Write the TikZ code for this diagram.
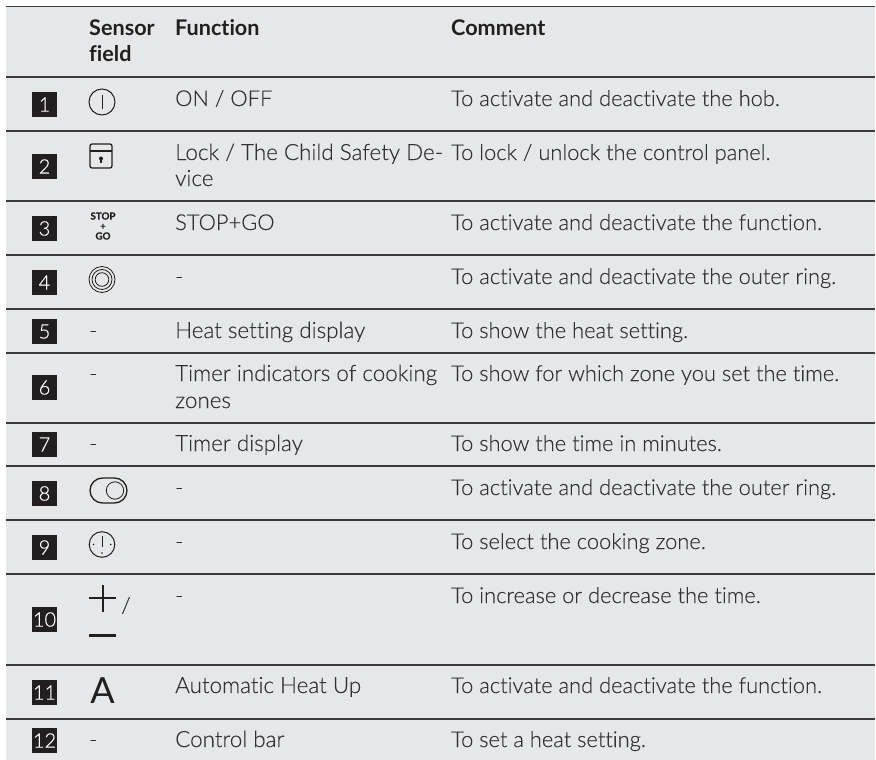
\documentclass[tikz,border=0pt]{standalone}
\usepackage{fontspec}
\setmainfont[Ligatures=NoCommon,UprightFont=* Light,BoldFont=* Bold,UprightFeatures={FakeBold=0.25}]{Lato}
\newfontfamily\lateg[Ligatures=NoCommon]{Lato}
\newfontfamily\latblack[Ligatures=NoCommon,FakeBold=0.5]{Lato Bold}
\definecolor{rowbg}{HTML}{E6E7E9}
\definecolor{rule}{HTML}{3A3A3C}
\definecolor{txt}{HTML}{333335}
\definecolor{ink}{HTML}{231F20}
\tikzset{
  x=1pt,y=-1pt,
  cell/.style={anchor=base west,inner sep=0pt,yshift=-1pt,text=txt,font=\fontsize{21.85}{24}\selectfont},
  fcell/.style={cell,font=\fontsize{22.4}{24}\selectfont},
  head/.style={anchor=base west,inner sep=0pt,yshift=-1pt,text=ink,font=\fontsize{21.6}{24}\selectfont\bfseries},
  numbox/.style={fill=ink,text=white,minimum width=25pt,minimum height=25pt,inner sep=0pt,font=\fontsize{20}{20}\selectfont},
  hline/.style={draw=rule,line width=1.1pt},
  icon/.style={draw=ink,line width=1pt,fill=none},
  stoptext/.style={inner sep=0pt,text=ink,font=\latblack\fontsize{9.8}{10}\selectfont,align=center},
}
\begin{document}
\begin{tikzpicture}
\useasboundingbox (0,0) rectangle (876,760);
\fill[white] (0,0) rectangle (876,760);
\fill[rowbg] (6,6) rectangle (875,760);
\draw[rule,line width=1.7pt] (6,6.5) -- (875,6.5);
\foreach \y in {77,131,201,255,309,353,423,466,520,574,665,719} {\draw[hline] (6,\y) -- (875,\y);}
% numbers
\foreach \n/\y in {1/104.5,2/166.5,3/228.5,4/282.5,5/331.5,6/387.5,7/444.5,8/493.5,9/547.5,10/619.5,11/692.5,12/740.5} {\node[numbox] (n\n) at (44.5,\y) {\n};}
% header
\node[head] (h1) at (89,35) {Sensor};
\node[head] (h1b) at (89,61) {field};
\node[head] (h2) at (175,35) {Function};
\node[head] (h3) at (451,35) {Comment};
% function col
\node[cell] (f1) at (175,105) {ON / OFF};
\node[fcell] (f2) at (175,159) {Lock / The Child Safety De-};
\node[fcell] (f2b) at (175,185) {vice};
\node[cell] (f3) at (175,229) {STOP+GO};
\node[cell] (f4) at (175,283) {-};
\node[fcell] (f5) at (175,337) {Heat setting display};
\node[fcell] (f6) at (175,380) {Timer indicators of cooking};
\node[fcell] (f6b) at (175,407) {zones};
\node[fcell] (f7) at (175,450) {Timer display};
\node[cell] (f8) at (175,494) {-};
\node[cell] (f9) at (175,548) {-};
\node[cell] (f10) at (175,602) {-};
\node[fcell] (f11) at (175,692) {Automatic Heat Up};
\node[fcell] (f12) at (175,746) {Control bar};
% comment col
\node[cell] (c1) at (451,105) {To activate and deactivate the hob.};
\node[cell] (c2) at (451,159) {To lock / unlock the control panel.};
\node[cell] (c3) at (451,229) {To activate and deactivate the function.};
\node[cell] (c4) at (451,283) {To activate and deactivate the outer ring.};
\node[cell] (c5) at (451,337) {To show the heat setting.};
\node[cell] (c6) at (451,380) {To show for which zone you set the time.};
\node[cell] (c7) at (451,450) {To show the time in minutes.};
\node[cell] (c8) at (451,494) {To activate and deactivate the outer ring.};
\node[cell] (c9) at (451,548) {To select the cooking zone.};
\node[cell] (c10) at (451,602) {To increase or decrease the time.};
\node[cell] (c11) at (451,692) {To activate and deactivate the function.};
\node[cell] (c12) at (451,746) {To set a heat setting.};
% dashes in sensor col
\foreach \y/\k in {337/a,380/b,450/c,746/d} {\node[cell] (s\k) at (89,\y) {-};}
% icons
\draw[icon] (102,102) circle (13);
\draw[icon] (102,95) -- (102,109);
\draw[icon,line width=1.3pt,rounded corners=2pt] (90,144) rectangle (112,168);
\draw[icon,line width=1.3pt] (90,151) -- (112,151);
\fill[ink] (101,158.5) circle (2);
\draw[ink,line width=1.3pt] (101,158.5) -- (101,163);
\node[stoptext] (s3) at (103,226) {STOP\\+\\GO};
\draw[icon,line width=.8pt] (102,279.5) circle (13); \draw[icon,line width=.8pt] (102,279.5) circle (10); \draw[icon,line width=.8pt] (102,279.5) circle (6.8);
\draw[icon,line width=1.3pt,rounded corners=12.5pt] (90,478) rectangle (127,503);
\draw[icon,line width=.8pt] (115,490.5) circle (8.7);
\draw[icon] (102,544.5) circle (12.8);
\draw[icon] (102,535.5) -- (102,546.5);
\fill[ink] (93.5,544.5) circle (0.9) (110.7,544.5) circle (0.9) (102,553) circle (0.9);
\draw[ink,line width=2pt] (89,598) -- (116,598) (102.5,585) -- (102.5,611.5);
\draw[ink,line width=2.8pt] (89,635.5) -- (116,635.5);
\node[cell] (slash) at (121,612) {/};
\node[anchor=base,inner sep=0pt,text=ink,font=\lateg\fontsize{36}{36}\selectfont] (sA) at (102.5,703) {A};
\end{tikzpicture}
\end{document}
